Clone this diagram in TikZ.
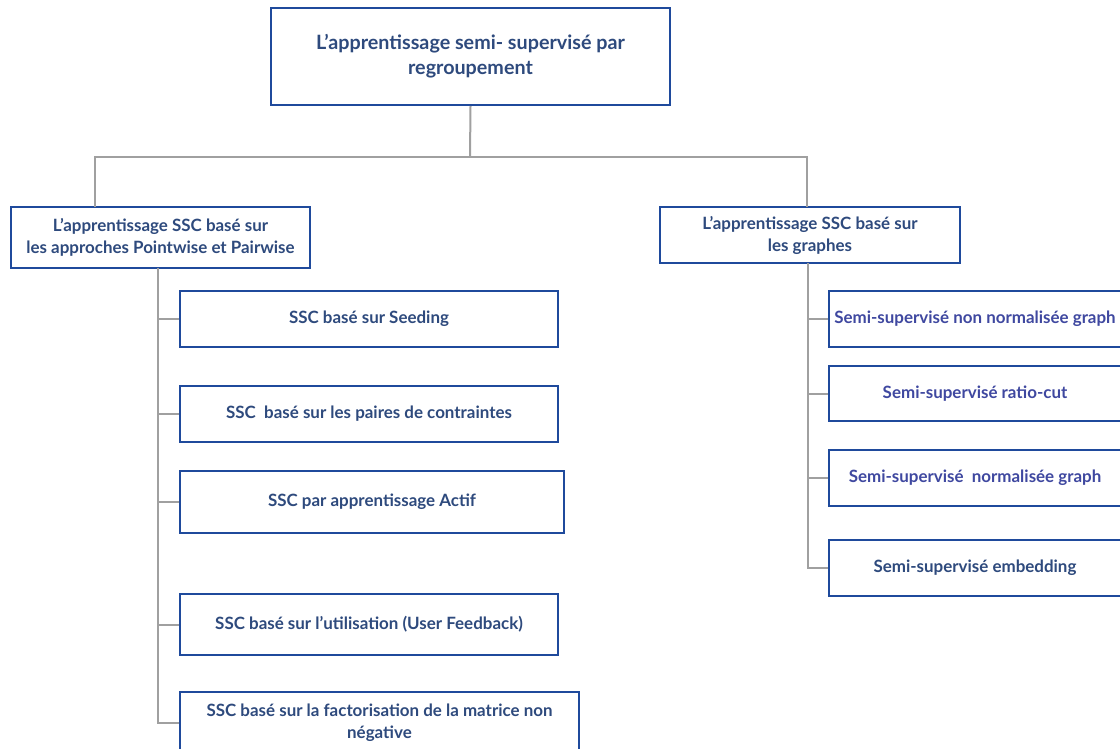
\documentclass[tikz,border=0pt]{standalone}
\usepackage{fontspec}
\setmainfont{Lato}
\definecolor{boxblue}{HTML}{1F4A9C}
\definecolor{navy}{HTML}{2E4A7D}
\definecolor{indigo}{HTML}{3F48A0}
\definecolor{linegrey}{HTML}{A0A0A0}
\begin{document}
\begin{tikzpicture}[x=0.75pt,y=-0.75pt,
  box/.style={draw=boxblue,line width=1.5pt,fill=white,rectangle,inner sep=0pt,
    align=center,font=\bfseries\fontsize{12.7}{16.5}\selectfont,text=navy},
  conn/.style={draw=linegrey,line width=1.5pt}]
\useasboundingbox (0,0) rectangle (1120,749);
\clip (0,0) rectangle (1120,749);
\fill[white] (0,0) rectangle (1120,749);
% nodes
\node[box,minimum width=399*0.75pt,minimum height=97*0.75pt,font=\bfseries\fontsize{14.8}{18.75}\selectfont] (top) at (470.5,56.5) {L’apprentissage semi- supervisé par\\regroupement};
\node[box,minimum width=299*0.75pt,minimum height=61*0.75pt] (L1) at (160.5,237.5) {L’apprentissage SSC basé sur\\les approches Pointwise et Pairwise};
\node[box,minimum width=300*0.75pt,minimum height=56*0.75pt] (R1) at (810,235) {L’apprentissage SSC basé sur\\les graphes};
\node[box,minimum width=378*0.75pt,minimum height=56*0.75pt] (C1) at (369,319) {SSC basé sur Seeding};
\node[box,minimum width=378*0.75pt,minimum height=56*0.75pt] (C2) at (369,414) {SSC\ \ basé sur les paires de contraintes};
\node[box,minimum width=384*0.75pt,minimum height=62*0.75pt] (C3) at (372,502) {SSC par apprentissage Actif};
\node[box,minimum width=378*0.75pt,minimum height=61*0.75pt] (C4) at (369,624.5) {SSC basé sur l’utilisation (User Feedback)};
\node[box,minimum width=399*0.75pt,minimum height=62*0.75pt] (C5) at (379.5,723) {SSC basé sur la factorisation de la matrice non\\négative};
\node[box,text=indigo,minimum width=292*0.75pt,minimum height=56*0.75pt] (D1) at (975,319) {Semi-supervisé non normalisée graph};
\node[box,text=indigo,minimum width=292*0.75pt,minimum height=55*0.75pt] (D2) at (975,393.5) {Semi-supervisé ratio-cut};
\node[box,text=indigo,minimum width=292*0.75pt,minimum height=56*0.75pt] (D3) at (975,478) {Semi-supervisé\ \ normalisée graph};
\node[box,minimum width=292*0.75pt,minimum height=56*0.75pt] (D4) at (975,568) {Semi-supervisé embedding};
% junction coordinates
\coordinate (j) at (470,157);
\coordinate (lt) at (95,207);
\coordinate (rt) at (807,207);
\coordinate (lb) at (158,268);
\coordinate (rb) at (808,263);
% connectors
\draw[conn] (top.south) -- (j);
\draw[conn] (j) -| (lt);
\draw[conn] (j) -| (rt);
\draw[conn] (lb) |- (C5.west);
\draw[conn] (C1.west) -- (C1.west -| lb);
\draw[conn] (C2.west) -- (C2.west -| lb);
\draw[conn] (C3.west) -- (C3.west -| lb);
\draw[conn] (C4.west) -- (C4.west -| lb);
\draw[conn] (rb) |- (D4.west);
\draw[conn] (D1.west) -- (D1.west -| rb);
\draw[conn] (D2.west) -- (D2.west -| rb);
\draw[conn] (D3.west) -- (D3.west -| rb);
\end{tikzpicture}
\end{document}
